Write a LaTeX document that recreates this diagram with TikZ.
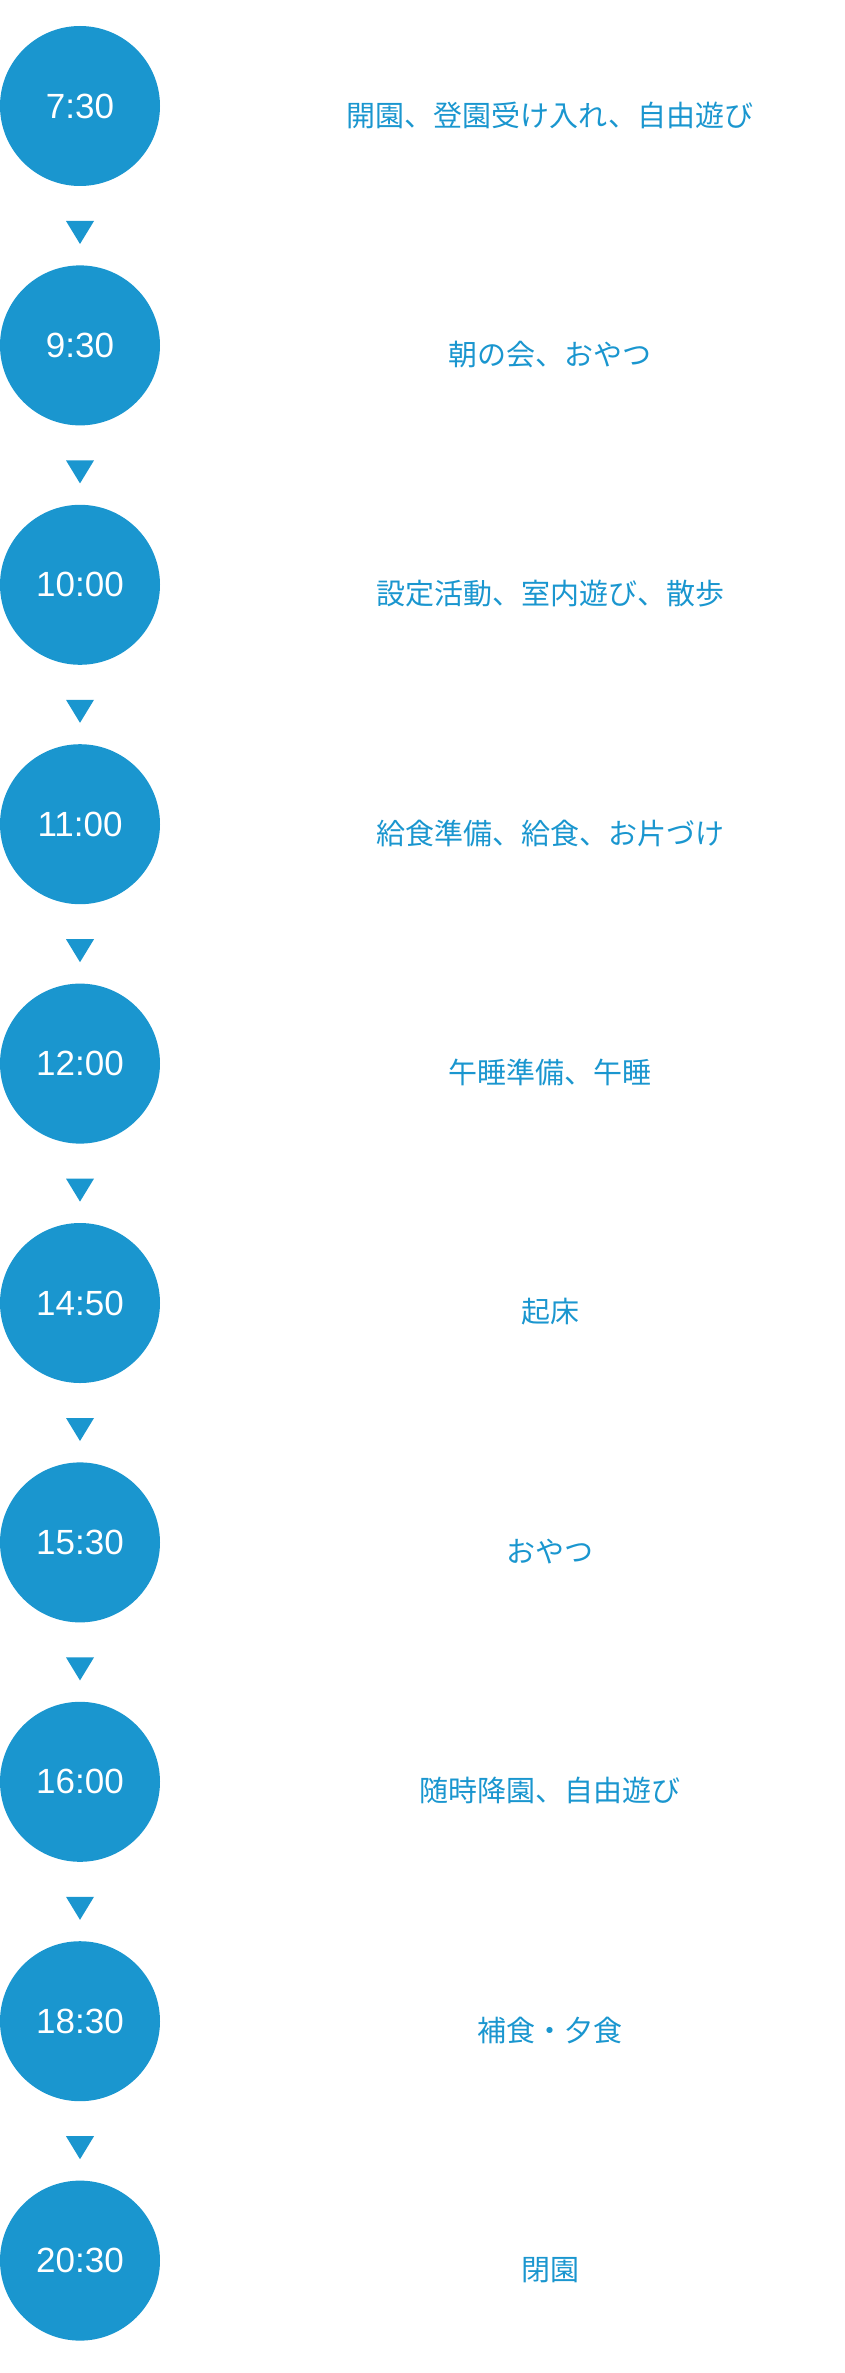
\documentclass[tikz,border=0pt]{standalone}
\usepackage{fontspec}
\setmainfont{Liberation Sans}
\newfontfamily\cjk{Noto Sans CJK JP}
\definecolor{tblue}{HTML}{1A96CF}
\begin{document}
\begin{tikzpicture}[x=1pt,y=-1pt,
  timec/.style={circle,fill=tblue,minimum size=160pt,inner sep=0pt,text=white,font=\fontsize{35}{35}\selectfont},
  act/.style={text=tblue,font=\cjk\fontsize{29}{29}\selectfont,anchor=center},
  tri/.style={fill=tblue}]
\useasboundingbox (0,0) rectangle (844,2373);
\foreach \i/\t/\a in {0/7:30/開園、登園受け入れ、自由遊び,1/9:30/朝の会、おやつ,2/10:00/設定活動、室内遊び、散歩,3/11:00/給食準備、給食、お片づけ,4/12:00/午睡準備、午睡,5/14:50/起床,6/15:30/おやつ,7/16:00/随時降園、自由遊び,8/18:30/補食・夕食,9/20:30/閉園}{
  \pgfmathsetmacro\yy{106+239.4*\i}
  \node[timec] (c\i) at (80,\yy) {\t};
  \node[act] (a\i) at (550,\yy+9) {\a};
}
\foreach \i in {0,...,8}{
  \pgfmathsetmacro\ty{106+239.4*\i+115}
  \coordinate (t\i) at (80,\ty);
  \fill[tri] ([xshift=-14]t\i) -- ([xshift=14]t\i) -- ([yshift=-23]t\i) -- cycle;
}
\end{tikzpicture}
\end{document}
